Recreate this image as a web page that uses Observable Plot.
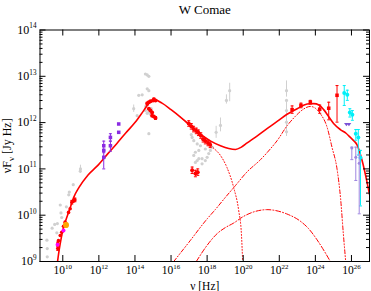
<!DOCTYPE html>
<html><head><meta charset="utf-8">
<script src="https://cdn.jsdelivr.net/npm/d3@7"></script>
<script src="https://cdn.jsdelivr.net/npm/@observablehq/plot@0.6"></script>
<style>body{margin:0;background:#fff}svg{display:block}</style>
</head><body><div id="chart"></div>
<script>
// tick exponents
const xTickExp = [10,12,14,16,18,20,22,24,26];
const yTickExp = [9,10,11,12,13,14];

// model curves: [log10 nu, log10 nuFnu]
const totalModel = [[9.71,9.0],[9.8,9.25],[9.9,9.48],[10.05,9.75],[10.2,9.93],[10.4,10.15],[10.6,10.38],[10.9,10.6],[11.4,10.87],[11.9,11.06],[12.5,11.33],[13.0,11.55],[13.5,11.78],[14.0,12.0],[14.5,12.27],[14.8,12.43],[15.1,12.49],[15.5,12.42],[16.0,12.28],[16.52,12.12],[17.0,11.96],[17.63,11.75],[18.2,11.6],[18.74,11.5],[19.2,11.44],[19.57,11.42],[19.9,11.47],[20.22,11.56],[20.8,11.72],[21.32,11.87],[21.9,12.03],[22.43,12.18],[22.99,12.3],[23.54,12.4],[23.91,12.41],[24.2,12.38],[24.46,12.28],[24.75,12.12],[25.01,11.98],[25.38,11.85],[25.7,11.77],[25.94,11.68],[26.15,11.6],[26.31,11.52],[26.59,11.18],[26.86,10.72],[27.0,10.45]];
const syncModel = [[16.52,12.12],[17.0,11.94],[17.5,11.77],[18.0,11.59],[18.3,11.47],[18.74,11.29],[19.1,11.03],[19.47,10.6],[19.75,10.1],[19.9,9.6],[19.97,9.0]];
const sscModel = [[17.4,9.0],[18.0,9.35],[18.55,9.6],[19.0,9.73],[19.47,9.83],[20.0,9.97],[20.5,10.06],[21.0,10.11],[21.32,10.12],[21.8,10.1],[22.4,10.03],[23.17,9.87],[23.6,9.72],[24.09,9.47],[24.5,9.22],[24.83,9.0]];
const ecModel = [[16.15,9.0],[17.0,9.42],[18.0,9.92],[18.45,10.12],[19.0,10.38],[19.57,10.64],[20.2,10.93],[20.96,11.2],[21.5,11.43],[21.88,11.61],[22.43,11.93],[22.9,12.14],[23.3,12.28],[23.72,12.35],[24.0,12.31],[24.28,12.19],[24.65,11.9],[24.92,11.47],[25.2,11.0],[25.4,10.35],[25.55,9.6],[25.68,9.0]];

// data: [log nu, log nuFnu, log lo, log hi]
const greyRadio = [[9.12,9.46],[9.14,9.28],[9.14,9.1],[9.41,9.72],[9.55,9.8],[9.67,9.62],[9.7,9.82],[9.86,10.22],[9.9,10.05],[9.94,9.95],[10.2,10.18],[10.33,10.44],[10.36,10.5],[10.58,10.66],[10.97,10.95],[10.98,11.0,10.9,11.08]];
const greyOptical = [[13.93,12.3,12.22,12.38],[14.12,12.15],[14.21,12.59],[14.4,12.6],[14.58,13.05],[14.68,13.03],[14.77,13.0],[14.68,12.73],[14.77,12.69],[14.58,12.26],[14.68,12.2],[14.77,12.23],[14.86,12.18],[14.77,11.76],[14.9,12.3],[14.6,12.35]];
const greyXray = [[17.17,11.68],[17.26,11.61],[17.12,11.74],[17.45,11.54],[17.54,11.4],[17.63,11.5],[17.45,11.18],[17.35,11.36],[17.72,11.22],[17.9,11.43],[18.0,11.25],[17.9,11.18],[18.18,11.4],[18.28,11.47],[17.35,11.14],[17.26,11.29],[17.54,11.22],[17.72,11.11],[18.09,11.33],[18.5,11.79,11.66,11.92],[18.74,11.94,11.8,12.1],[19.07,12.48,12.4,12.6],[19.25,12.69,12.45,12.85]];
const greyGamma = [[22.4,12.69,12.55,12.9],[22.4,12.48],[22.4,12.26],[22.4,12.01,11.7,12.45],[22.4,11.8]];

const redRadio = [[9.72,9.28,9.24,9.32],[9.72,9.38,9.34,9.42],[9.76,9.45],[9.86,9.56],[9.94,9.63],[10.04,9.76],[10.13,9.85],[10.32,10.06],[10.41,10.14],[10.5,10.28,10.24,10.32],[10.59,10.3],[10.67,10.33,10.29,10.37]];
const magentaPts = [[9.71,9.36],[10.04,9.67]];
const orangePts = [[10.18,9.79,9.74,9.84]];
const purpleIR = [[12.27,11.5,11.35,11.6],[12.27,11.4],[12.27,11.25,11.0,11.4],[12.64,11.68,11.6,11.76],[12.64,11.5,11.38,11.6]];
const purpleSquares = [[13.1,11.97],[13.1,11.79]];
const redOptical = [[14.68,12.41,12.38,12.44],[14.77,12.44],[14.86,12.46],[15.0,12.48],[15.05,12.5,12.47,12.53],[15.14,12.48],[14.77,12.3],[14.86,12.26],[14.95,12.22],[14.95,12.15],[15.05,12.13],[15.14,12.1,12.07,12.13]];
const redXray = [[16.98,11.98,11.92,12.04],[17.12,11.92,11.86,11.98],[17.25,11.86,11.8,11.92],[17.4,11.82,11.76,11.88],[17.52,11.78,11.72,11.84],[17.65,11.72,11.66,11.78],[17.78,11.64,11.58,11.7],[17.9,11.6,11.54,11.66],[18.05,11.56,11.5,11.62],[18.17,11.52,11.46,11.58]];
const redXrayLow = [[17.17,10.97,10.9,11.04],[17.35,10.9,10.83,10.97],[17.48,10.93,10.86,11.0]];
const redFermi = [[22.71,12.28,12.2,12.36],[23.2,12.37,12.32,12.42],[23.72,12.44,12.4,12.48],[24.24,12.29,12.2,12.38],[24.74,12.31,12.06,12.44],[25.2,12.59,12.01,12.8]];
const cyanPts = [[25.6,12.64,12.37,12.8],[25.77,12.6,12.48,12.7],[25.91,12.22,12.12,12.3],[26.05,12.17,12.05,12.26],[26.24,11.76,11.62,11.85],[26.38,11.68,11.3,11.85],[26.5,11.24,10.2,11.4]];
const purpleLimits = [[25.72,11.96],[25.86,11.96]];
const lavenderPts = [[26.02,11.45,11.2,11.47],[26.24,11.25,10.75,11.47],[26.43,11.12,10.03,11.3]];

const toPts = arr => arr.map(([a,b,lo,hi]) => ({nu:10**a, f:10**b, lo: lo==null?null:10**lo, hi: hi==null?null:10**hi}));
const toLine = arr => arr.map(([a,b]) => ({nu:10**a, f:10**b}));

const ml = 39.5, mr = 2, mt = 29.5, mb = 30, W = 371, H = 291;
const fw = W - ml - mr, fh = H - mt - mb;

const capSym = {draw(ctx, size){ const w = Math.sqrt(size/Math.PI); ctx.moveTo(-w,0); ctx.lineTo(w,0); }};
const downTri = {draw(ctx, size){ const r = Math.sqrt(size/Math.PI); ctx.moveTo(-r,-r*0.6); ctx.lineTo(r,-r*0.6); ctx.lineTo(0,r*0.8); ctx.closePath(); }};

function series(arr, color, {r=2, symbol="circle", caps=true, capR=1.5, sw=1}={}){
  const d = toPts(arr);
  const e = d.filter(p => p.lo != null);
  const marks = [Plot.ruleX(e, {x:"nu", y1:"lo", y2:"hi", stroke:color, strokeWidth:sw})];
  if (caps) {
    marks.push(Plot.dot(e, {x:"nu", y:"lo", symbol:capSym, r:capR, stroke:color, strokeWidth:sw}));
    marks.push(Plot.dot(e, {x:"nu", y:"hi", symbol:capSym, r:capR, stroke:color, strokeWidth:sw}));
  }
  marks.push(Plot.dot(d, {x:"nu", y:"f", r, symbol, fill:color, stroke:"none"}));
  return marks;
}

const xTicks = xTickExp.map(e => 10**e);
const yMajor = yTickExp.map(e => 10**e);
const yMinor = [];
for (let e = 9; e < 14; e++) for (let m = 2; m <= 9; m++) yMinor.push(m * 10**e);

const grey = "#d0d0d0";
const red = "#ff0000";

const chart = Plot.plot({
  width: W, height: H,
  marginLeft: ml, marginRight: mr, marginTop: mt, marginBottom: mb,
  style: {fontFamily: "'Liberation Serif', 'DejaVu Serif', serif", fontSize: "12px", background: "#fff", color: "#000"},
  x: {type: "log", domain: [10**8.737, 1e27]},
  y: {type: "log", domain: [1e9, 1e14]},
  marks: [
    ...series(greyRadio, grey, {r:1.6, caps:false}),
    ...series(greyOptical, grey, {r:1.6, caps:false}),
    ...series(greyXray, grey, {r:1.6, caps:false}),
    ...series(greyGamma, grey, {r:1.6, caps:false}),
    Plot.line(toLine(syncModel), {x:"nu", y:"f", stroke:red, strokeWidth:1, strokeDasharray:"1,2", curve:"monotone-x", clip:true}),
    Plot.line(toLine(sscModel), {x:"nu", y:"f", stroke:red, strokeWidth:1, strokeDasharray:"5,2,1,2", curve:"monotone-x", clip:true}),
    Plot.line(toLine(ecModel), {x:"nu", y:"f", stroke:red, strokeWidth:1, strokeDasharray:"4,2,1,2,1,2", curve:"monotone-x", clip:true}),
    Plot.line(toLine(totalModel), {x:"nu", y:"f", stroke:red, strokeWidth:1.6, curve:"monotone-x", clip:true}),
    ...series(redRadio, red, {r:1.8}),
    ...series(magentaPts, "#ff00ff", {r:2}),
    ...series(orangePts, "#ffa500", {r:3}),
    ...series(purpleIR, "#8a2be2", {r:2, symbol:"square"}),
    ...series(purpleSquares, "#8a2be2", {r:2, symbol:"square"}),
    ...series(redOptical, red, {r:2}),
    ...series(redXray, red, {r:2}),
    ...series(redXrayLow, red, {r:2}),
    ...series(redFermi, red, {r:2, symbol:"square"}),
    ...series(cyanPts, "#00f0f8", {r:2}),
    ...series(purpleLimits, "#7b52d6", {r:2.4, symbol:downTri}),
    ...series(lavenderPts, "#9f86e0", {r:1.5}),
    // frame and inward ticks
    Plot.frame({stroke:"#000", strokeWidth:1}),
    Plot.tickX(xTicks, {x:d=>d, insetTop: fh-6, stroke:"#000"}),
    Plot.tickX(xTicks, {x:d=>d, insetBottom: fh-6, stroke:"#000"}),
    Plot.tickY(yMajor, {y:d=>d, insetRight: fw-6, stroke:"#000"}),
    Plot.tickY(yMajor, {y:d=>d, insetLeft: fw-6, stroke:"#000"}),
    Plot.tickY(yMinor, {y:d=>d, insetRight: fw-3, stroke:"#000"}),
    Plot.tickY(yMinor, {y:d=>d, insetLeft: fw-3, stroke:"#000"}),
    Plot.axisX(xTicks, {anchor:"bottom", tickSize:0, tickPadding:4.5, tickFormat: d => "10^" + Math.round(Math.log10(d)), label:null, fontSize:11.5}),
    Plot.axisY(yMajor, {anchor:"left", tickSize:0, tickPadding:3.5, tickFormat: d => "10^" + Math.round(Math.log10(d)), label:null, fontSize:12}),
    Plot.text(["W Comae"], {frameAnchor:"top", lineAnchor:"bottom", dy:-16, fontSize:13}),
    Plot.text(["ν [Hz]"], {frameAnchor:"bottom", lineAnchor:"bottom", dy:28, fontSize:11.5}),
    Plot.text(["νF_ν [Jy Hz]"], {frameAnchor:"left", textAnchor:"middle", lineAnchor:"middle", dx:-33, rotate:-90, fontSize:12})
  ]
});

const ns = "http://www.w3.org/2000/svg";
chart.querySelectorAll("text").forEach(t => {
  const txt = t.textContent;
  let m = /^10\^(\d+)$/.exec(txt);
  if (m) {
    t.textContent = "10";
    const ts = document.createElementNS(ns, "tspan");
    ts.setAttribute("dy", "-0.75em");
    ts.setAttribute("font-size", "0.6em");
    ts.textContent = m[1];
    t.appendChild(ts);
    return;
  }
  if (txt === "νF_ν [Jy Hz]") {
    t.textContent = "νF";
    const s = document.createElementNS(ns, "tspan");
    s.setAttribute("dy", "0.3em"); s.setAttribute("font-size", "0.75em"); s.textContent = "ν";
    const r = document.createElementNS(ns, "tspan");
    r.setAttribute("dy", "-0.25em"); r.textContent = " [Jy Hz]";
    t.appendChild(s); t.appendChild(r);
  }
});
document.getElementById("chart").appendChild(chart);
</script>
</body></html>
